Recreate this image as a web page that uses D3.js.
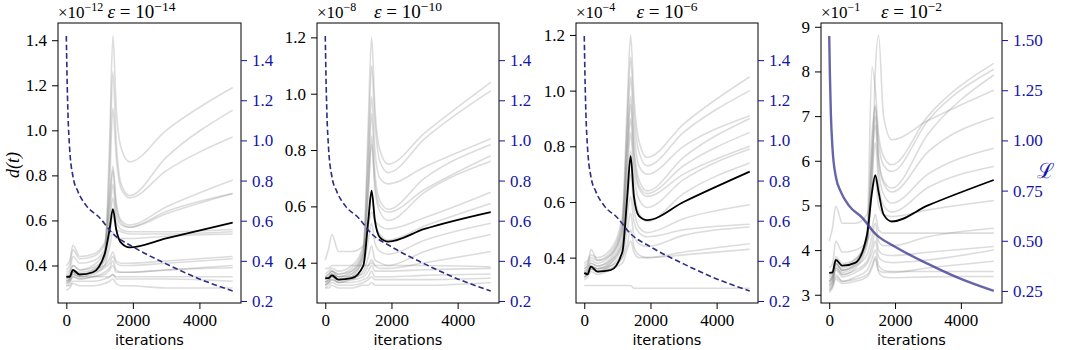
<!DOCTYPE html>
<html>
<head>
<meta charset="utf-8">
<script src="https://cdn.jsdelivr.net/npm/d3@7"></script>
<style>
  body { margin: 0; background: #fff; }
</style>
</head>
<body>
<svg id="chart" width="1065" height="350"></svg>
<script>
// iterations at which the distance curves were read
var iterations = [0, 100, 200, 400, 800, 1150, 1300, 1400, 1500, 1650, 1900, 3000, 5000];

// training loss (right axis), same run in every panel
var lossIters = [0, 20, 50, 100, 200, 350, 600, 1000, 1400, 2000, 3000, 4000, 5000];
var lossValues = [1.52, 1.33, 1.13, 0.96, 0.82, 0.745, 0.675, 0.615, 0.535, 0.47, 0.385, 0.31, 0.25];

// epsilon = 1e-14 (values x 1e-12)
var runs14 = [
  [0.36, 0.37, 0.40, 0.38, 0.40, 0.46, 0.95, 1.42, 1.10, 0.92, 0.86, 1.00, 1.19],
  [0.34, 0.35, 0.38, 0.36, 0.38, 0.44, 0.85, 1.26, 0.95, 0.76, 0.71, 0.88, 1.09],
  [0.33, 0.34, 0.37, 0.35, 0.37, 0.43, 0.75, 1.10, 0.88, 0.74, 0.70, 0.82, 0.97],
  [0.40, 0.42, 0.49, 0.44, 0.45, 0.50, 0.70, 0.84, 0.68, 0.60, 0.58, 0.66, 0.78],
  [0.38, 0.40, 0.47, 0.43, 0.44, 0.49, 0.66, 0.82, 0.66, 0.59, 0.57, 0.64, 0.72],
  [0.37, 0.38, 0.44, 0.41, 0.42, 0.47, 0.62, 0.76, 0.63, 0.58, 0.57, 0.63, 0.72],
  [0.35, 0.36, 0.40, 0.38, 0.39, 0.44, 0.58, 0.70, 0.60, 0.56, 0.55, 0.55, 0.56],
  [0.33, 0.34, 0.37, 0.36, 0.37, 0.42, 0.53, 0.62, 0.56, 0.55, 0.54, 0.54, 0.55],
  [0.32, 0.33, 0.36, 0.35, 0.36, 0.40, 0.48, 0.55, 0.52, 0.52, 0.52, 0.53, 0.54],
  [0.34, 0.35, 0.38, 0.37, 0.38, 0.40, 0.43, 0.46, 0.42, 0.41, 0.41, 0.42, 0.44],
  [0.33, 0.34, 0.37, 0.36, 0.37, 0.39, 0.41, 0.44, 0.41, 0.40, 0.40, 0.41, 0.43],
  [0.31, 0.32, 0.35, 0.34, 0.35, 0.37, 0.39, 0.42, 0.38, 0.37, 0.37, 0.38, 0.40],
  [0.32, 0.33, 0.35, 0.34, 0.35, 0.36, 0.38, 0.40, 0.37, 0.37, 0.37, 0.38, 0.39],
  [0.35, 0.35, 0.36, 0.35, 0.35, 0.35, 0.35, 0.36, 0.35, 0.35, 0.35, 0.35, 0.35],
  [0.31, 0.31, 0.33, 0.33, 0.33, 0.34, 0.35, 0.36, 0.34, 0.34, 0.34, 0.34, 0.33],
  [0.29, 0.30, 0.32, 0.31, 0.31, 0.32, 0.33, 0.34, 0.32, 0.31, 0.31, 0.30, 0.30]
];
var mean14 = [0.35, 0.35, 0.38, 0.36, 0.37, 0.45, 0.56, 0.65, 0.56, 0.50, 0.48, 0.52, 0.59];

// epsilon = 1e-10 (values x 1e-8)
var runs10 = [
  [0.36, 0.37, 0.38, 0.37, 0.39, 0.46, 0.90, 1.20, 0.95, 0.80, 0.75, 0.86, 1.04],
  [0.35, 0.36, 0.37, 0.36, 0.38, 0.45, 0.82, 1.10, 0.90, 0.76, 0.72, 0.84, 1.01],
  [0.34, 0.35, 0.36, 0.35, 0.37, 0.44, 0.75, 0.99, 0.80, 0.70, 0.68, 0.74, 0.84],
  [0.33, 0.34, 0.35, 0.34, 0.36, 0.43, 0.70, 0.93, 0.72, 0.62, 0.59, 0.70, 0.82],
  [0.35, 0.36, 0.37, 0.36, 0.37, 0.43, 0.66, 0.82, 0.68, 0.60, 0.58, 0.66, 0.78],
  [0.32, 0.33, 0.34, 0.33, 0.35, 0.42, 0.64, 0.85, 0.66, 0.58, 0.55, 0.65, 0.76],
  [0.41, 0.45, 0.50, 0.44, 0.44, 0.46, 0.53, 0.58, 0.55, 0.53, 0.52, 0.56, 0.65],
  [0.34, 0.35, 0.37, 0.35, 0.36, 0.41, 0.55, 0.64, 0.54, 0.50, 0.48, 0.53, 0.61],
  [0.33, 0.34, 0.36, 0.34, 0.35, 0.39, 0.48, 0.54, 0.47, 0.44, 0.43, 0.48, 0.54],
  [0.32, 0.33, 0.35, 0.33, 0.34, 0.37, 0.42, 0.46, 0.41, 0.40, 0.39, 0.44, 0.50],
  [0.34, 0.35, 0.36, 0.35, 0.35, 0.36, 0.39, 0.41, 0.39, 0.38, 0.38, 0.40, 0.44],
  [0.38, 0.38, 0.39, 0.39, 0.39, 0.39, 0.39, 0.40, 0.39, 0.39, 0.39, 0.39, 0.385],
  [0.33, 0.34, 0.35, 0.34, 0.34, 0.35, 0.37, 0.39, 0.37, 0.37, 0.37, 0.375, 0.38],
  [0.32, 0.33, 0.34, 0.33, 0.33, 0.34, 0.35, 0.37, 0.35, 0.35, 0.35, 0.355, 0.36],
  [0.31, 0.32, 0.33, 0.32, 0.32, 0.33, 0.34, 0.35, 0.34, 0.34, 0.34, 0.34, 0.345],
  [0.31, 0.31, 0.32, 0.31, 0.31, 0.32, 0.32, 0.33, 0.32, 0.32, 0.32, 0.32, 0.33]
];
var mean10 = [0.345, 0.345, 0.355, 0.34, 0.345, 0.39, 0.55, 0.656, 0.55, 0.49, 0.475, 0.52, 0.58];

// epsilon = 1e-6 (values x 1e-4)
var runs6 = [
  [0.38, 0.39, 0.41, 0.40, 0.43, 0.55, 0.95, 1.20, 0.98, 0.82, 0.76, 0.88, 1.05],
  [0.37, 0.38, 0.40, 0.39, 0.42, 0.53, 0.90, 1.12, 0.92, 0.78, 0.73, 0.85, 1.00],
  [0.36, 0.37, 0.39, 0.38, 0.41, 0.52, 0.85, 1.05, 0.86, 0.73, 0.70, 0.80, 0.91],
  [0.35, 0.36, 0.38, 0.37, 0.40, 0.50, 0.80, 0.98, 0.80, 0.68, 0.64, 0.76, 0.90],
  [0.36, 0.37, 0.43, 0.39, 0.41, 0.50, 0.78, 0.95, 0.78, 0.66, 0.63, 0.73, 0.85],
  [0.34, 0.35, 0.37, 0.36, 0.39, 0.48, 0.74, 0.90, 0.74, 0.65, 0.62, 0.70, 0.80],
  [0.33, 0.34, 0.36, 0.35, 0.38, 0.46, 0.70, 0.85, 0.70, 0.61, 0.58, 0.68, 0.79],
  [0.35, 0.36, 0.38, 0.37, 0.39, 0.45, 0.65, 0.78, 0.64, 0.56, 0.53, 0.63, 0.74],
  [0.34, 0.35, 0.37, 0.36, 0.38, 0.44, 0.60, 0.70, 0.58, 0.51, 0.49, 0.54, 0.59],
  [0.33, 0.34, 0.36, 0.35, 0.37, 0.42, 0.55, 0.62, 0.53, 0.49, 0.475, 0.50, 0.52],
  [0.32, 0.33, 0.35, 0.34, 0.36, 0.40, 0.50, 0.56, 0.48, 0.45, 0.44, 0.48, 0.51],
  [0.34, 0.35, 0.37, 0.36, 0.37, 0.40, 0.45, 0.50, 0.44, 0.41, 0.40, 0.42, 0.45],
  [0.33, 0.34, 0.36, 0.35, 0.36, 0.38, 0.43, 0.46, 0.42, 0.40, 0.40, 0.41, 0.43],
  [0.30, 0.30, 0.30, 0.30, 0.30, 0.30, 0.30, 0.30, 0.29, 0.29, 0.29, 0.29, 0.29]
];
var mean6 = [0.346, 0.34, 0.368, 0.35, 0.355, 0.42, 0.62, 0.765, 0.62, 0.55, 0.535, 0.60, 0.709];

// epsilon = 1e-2 (values x 1e-1)
var runs2 = [
  [3.40, 3.50, 3.75, 3.65, 3.80, 4.30, 5.50, 8.00, 8.81, 7.00, 6.47, 6.90, 7.58],
  [3.30, 3.40, 3.70, 3.55, 3.70, 4.40, 8.10, 7.60, 6.60, 6.10, 5.91, 7.00, 8.18],
  [3.35, 3.45, 3.80, 3.60, 3.75, 4.35, 6.60, 7.25, 6.40, 5.90, 5.76, 6.90, 8.05],
  [3.25, 3.35, 3.65, 3.50, 3.65, 4.20, 6.30, 7.20, 6.10, 5.55, 5.39, 6.60, 7.92],
  [3.30, 3.40, 3.70, 3.55, 3.70, 4.20, 6.10, 7.00, 6.00, 5.50, 5.30, 6.20, 6.97],
  [3.20, 3.30, 3.60, 3.45, 3.60, 4.10, 5.90, 6.80, 5.80, 5.25, 5.05, 5.70, 6.28],
  [3.45, 3.55, 3.85, 3.70, 3.80, 4.20, 5.60, 6.40, 5.50, 5.00, 4.85, 5.40, 5.87],
  [4.20, 4.50, 4.98, 4.60, 4.60, 4.80, 5.30, 5.60, 5.00, 4.80, 4.75, 4.90, 5.11],
  [3.60, 3.70, 4.20, 3.95, 4.00, 4.20, 4.50, 4.80, 4.45, 4.38, 4.38, 4.38, 4.38],
  [3.30, 3.40, 3.70, 3.55, 3.65, 3.90, 4.30, 4.60, 4.20, 4.10, 4.10, 4.30, 4.49],
  [3.20, 3.30, 3.60, 3.45, 3.55, 3.75, 4.10, 4.40, 4.00, 3.90, 3.88, 3.95, 4.08],
  [3.15, 3.25, 3.55, 3.40, 3.50, 3.70, 3.95, 4.20, 3.85, 3.75, 3.72, 3.78, 4.00],
  [3.10, 3.20, 3.45, 3.30, 3.40, 3.55, 3.80, 4.00, 3.65, 3.55, 3.52, 3.52, 3.52],
  [3.05, 3.15, 3.35, 3.25, 3.30, 3.40, 3.60, 3.80, 3.50, 3.40, 3.38, 3.40, 3.41],
  [3.10, 3.20, 3.40, 3.30, 3.35, 3.45, 3.65, 3.85, 3.55, 3.50, 3.50, 3.60, 3.75]
];
var mean2 = [3.49, 3.50, 3.78, 3.65, 3.72, 4.35, 5.30, 5.68, 5.30, 4.80, 4.64, 5.00, 5.57];

// titles and offset labels
var epsExponents = ["\u221214", "\u221210", "\u22126", "\u22122"];
var offsetExponents = ["\u221212", "\u22128", "\u22124", "\u22121"];

// tick labels
var xTicks = [0, 2000, 4000];
var leftTicks = [
  [0.4, 0.6, 0.8, 1.0, 1.2, 1.4],
  [0.4, 0.6, 0.8, 1.0, 1.2],
  [0.4, 0.6, 0.8, 1.0, 1.2],
  [3, 4, 5, 6, 7, 8, 9]
];
var rightTicks = [
  [0.2, 0.4, 0.6, 0.8, 1.0, 1.2, 1.4],
  [0.2, 0.4, 0.6, 0.8, 1.0, 1.2, 1.4],
  [0.2, 0.4, 0.6, 0.8, 1.0, 1.2, 1.4],
  [0.25, 0.50, 0.75, 1.00, 1.25, 1.50]
];

// layout
var plotTop = 23, plotBottom = 303;
var boxes = [[58, 241], [317, 499], [576, 758], [821, 1002]];
var leftDomains = [[0.2335, 1.4765], [0.257, 1.251], [0.237, 1.243], [2.815, 9.085]];
var rightDomain = [0.19, 1.585];
var leftFormats = [".1f", ".1f", ".1f", "d"];
var rightFormats = [".1f", ".1f", ".1f", ".2f"];

var runs = [runs14, runs10, runs6, runs2];
var means = [mean14, mean10, mean6, mean2];

var serif = "Liberation Serif";
var blue = "#1414a8";

var svg = d3.select("#chart");

function styleAxis(g, color) {
  g.attr("font-family", serif).attr("font-size", 17);
  g.select(".domain").remove();
  g.selectAll(".tick line").attr("stroke", color).attr("stroke-width", 1);
  g.selectAll(".tick text")
    .attr("fill", color)
    .attr("font-family", serif)
    .attr("font-size", 17);
}

boxes.forEach(function (b, p) {
  var x = d3.scaleLinear().domain([-250, 5250]).range([b[0], b[1]]);
  var yL = d3.scaleLinear().domain(leftDomains[p]).range([plotBottom, plotTop]);
  var yR = d3.scaleLinear().domain(rightDomain).range([plotBottom, plotTop]);

  var g = svg.append("g");

  var line = d3.line()
    .x(function (d, i) { return x(iterations[i]); })
    .y(function (d) { return yL(d); })
    .curve(d3.curveMonotoneX);

  // individual runs
  g.selectAll("path.run")
    .data(runs[p])
    .enter()
    .append("path")
    .attr("class", "run")
    .attr("d", line)
    .attr("fill", "none")
    .attr("stroke", "#808080")
    .attr("stroke-opacity", 0.28)
    .attr("stroke-width", 1.6);

  // average run
  g.append("path")
    .attr("d", line(means[p]))
    .attr("fill", "none")
    .attr("stroke", "#000")
    .attr("stroke-width", 1.8);

  // loss on twin axis
  var lossLine = d3.line()
    .x(function (d, i) { return x(lossIters[i]); })
    .y(function (d) { return yR(d); })
    .curve(d3.curveMonotoneX);

  var loss = g.append("path")
    .attr("d", lossLine(lossValues))
    .attr("fill", "none");
  if (p < 3) {
    loss.attr("stroke", "#2c2c85")
      .attr("stroke-width", 1.6)
      .attr("stroke-dasharray", "5.5,3");
  } else {
    loss.attr("stroke", "#3a3a90")
      .attr("stroke-opacity", 0.78)
      .attr("stroke-width", 2.4);
  }

  // frame
  g.append("rect")
    .attr("x", b[0]).attr("y", plotTop)
    .attr("width", b[1] - b[0]).attr("height", plotBottom - plotTop)
    .attr("fill", "none")
    .attr("stroke", "#000")
    .attr("stroke-width", 1);

  // axes
  var ax = g.append("g")
    .attr("transform", "translate(0," + plotBottom + ")")
    .call(d3.axisBottom(x).tickValues(xTicks).tickFormat(d3.format("d")).tickSize(6).tickPadding(5));
  styleAxis(ax, "#000");

  var al = g.append("g")
    .attr("transform", "translate(" + b[0] + ",0)")
    .call(d3.axisLeft(yL).tickValues(leftTicks[p]).tickFormat(d3.format(leftFormats[p])).tickSize(6).tickPadding(5));
  styleAxis(al, "#000");

  var ar = g.append("g")
    .attr("transform", "translate(" + b[1] + ",0)")
    .call(d3.axisRight(yR).tickValues(rightTicks[p]).tickFormat(d3.format(rightFormats[p])).tickSize(6).tickPadding(5));
  styleAxis(ar, blue);

  // x label
  g.append("text")
    .attr("x", (b[0] + b[1]) / 2)
    .attr("y", 345)
    .attr("text-anchor", "middle")
    .attr("font-family", "DejaVu Sans")
    .attr("font-size", 14.5)
    .text("iterations");

  // offset text (x 10^k)
  var off = g.append("text")
    .attr("x", b[0])
    .attr("y", 18)
    .attr("font-family", serif)
    .attr("font-size", 17);
  off.append("tspan").text("\u00d710");
  off.append("tspan").attr("dy", -7).attr("font-size", 12).text(offsetExponents[p]);

  // title
  var t = g.append("text")
    .attr("x", (b[0] + b[1]) / 2 + (p === 0 ? -8 : 0))
    .attr("y", 18)
    .attr("text-anchor", "middle")
    .attr("font-family", serif)
    .attr("font-size", 19);
  t.append("tspan").attr("font-style", "italic").text("\u03b5");
  t.append("tspan").text(" = 10");
  t.append("tspan").attr("dy", -7).attr("font-size", 13.5).text(epsExponents[p]);
});

// y labels
svg.append("text")
  .attr("transform", "translate(19,165) rotate(-90)")
  .attr("text-anchor", "middle")
  .attr("font-family", serif)
  .attr("font-style", "italic")
  .attr("font-size", 18)
  .text("d(t)");

svg.append("text")
  .attr("x", 1046)
  .attr("y", 178)
  .attr("text-anchor", "middle")
  .attr("font-family", serif)
  .attr("font-size", 21)
  .attr("fill", blue)
  .text("\u2112");
</script>
</body>
</html>
